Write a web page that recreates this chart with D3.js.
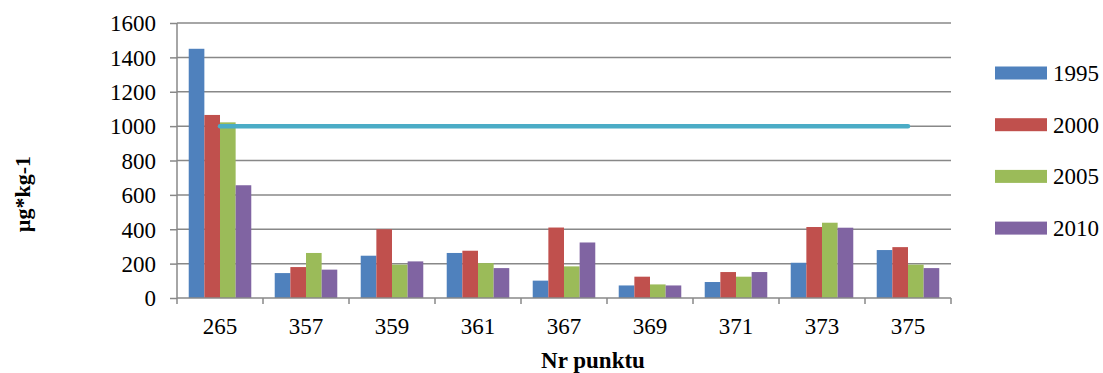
<!DOCTYPE html>
<html>
<head>
<meta charset="utf-8">
<script src="https://cdn.jsdelivr.net/npm/d3@7"></script>
<style>
  body { margin: 0; background: #fff; }
</style>
</head>
<body>
<div id="chart"></div>
<script>
// Data
const points = ['265', '357', '359', '361', '367', '369', '371', '373', '375'];
const years = ['1995', '2000', '2005', '2010'];
const v1995 = [1450, 145, 246, 262, 101, 73, 93, 205, 279];
const v2000 = [1065, 180, 400, 275, 410, 124, 151, 413, 296];
const v2005 = [1022, 262, 194, 203, 184, 79, 124, 438, 194];
const v2010 = [656, 165, 213, 174, 323, 73, 151, 409, 174];
const limit = [1000, 1000, 1000, 1000, 1000, 1000, 1000, 1000, 1000];
const yTicks = [0, 200, 400, 600, 800, 1000, 1200, 1400, 1600];

const series = [v1995, v2000, v2005, v2010];
const colors = ['#4F81BD', '#C0504D', '#9BBB59', '#8064A2'];
const FONT = "'Liberation Serif'";

const width = 1103, height = 373;
const margin = {top: 23, right: 152, bottom: 75, left: 177};
const plotW = width - margin.left - margin.right;
const plotH = height - margin.top - margin.bottom;

const svg = d3.select('#chart').append('svg')
  .attr('width', width)
  .attr('height', height);

const chart = svg.append('g')
  .attr('transform', 'translate(' + margin.left + ',' + margin.top + ')');

const x = d3.scaleBand().domain(points).range([0, plotW]).paddingInner(0).paddingOuter(0);
const bw = x.bandwidth() / 5.5; // Excel gap width 150%
const x1 = d3.scaleBand().domain(years).range([0.75 * bw, x.bandwidth() - 0.75 * bw]);
const y = d3.scaleLinear().domain([0, 1600]).range([plotH, 0]);

// gridlines
chart.append('g')
  .selectAll('line')
  .data(yTicks.slice(1))
  .enter().append('line')
  .attr('x1', 0).attr('x2', plotW)
  .attr('y1', d => y(d)).attr('y2', d => y(d))
  .attr('stroke', '#888').attr('stroke-width', 1.5);

// bars
const groups = chart.selectAll('.grp')
  .data(points)
  .enter().append('g')
  .attr('class', 'grp')
  .attr('transform', d => 'translate(' + x(d) + ',0)');

groups.selectAll('rect')
  .data((d, i) => series.map((s, k) => ({year: years[k], value: s[i], color: colors[k]})))
  .enter().append('rect')
  .attr('x', d => x1(d.year))
  .attr('width', x1.bandwidth())
  .attr('y', d => y(d.value))
  .attr('height', d => plotH - y(d.value))
  .attr('fill', d => d.color);

// limit line
const line = d3.line()
  .x((d, i) => x(points[i]) + x.bandwidth() / 2)
  .y(d => y(d));

chart.append('path')
  .datum(limit)
  .attr('d', line)
  .attr('fill', 'none')
  .attr('stroke', '#4BACC6')
  .attr('stroke-width', 4.5)
  .attr('stroke-linecap', 'round');

// y axis
const yAxis = d3.axisLeft(y).tickValues(yTicks).tickFormat(d3.format('d')).tickSize(7).tickPadding(14);
const gy = chart.append('g').call(yAxis).attr('font-family', null);
gy.select('.domain').attr('stroke', '#888').attr('stroke-width', 1.5).attr('d', 'M0,0V' + plotH);
gy.selectAll('.tick line').attr('stroke', '#888').attr('stroke-width', 1.5);
gy.selectAll('.tick text')
  .style('font-family', FONT)
  .style('font-size', '23px')
  .attr('fill', '#000')
  .attr('dy', '0.34em');

// x axis
const gx = chart.append('g').attr('transform', 'translate(0,' + plotH + ')');
gx.append('line')
  .attr('x1', 0).attr('x2', plotW)
  .attr('stroke', '#888').attr('stroke-width', 1.5);
gx.selectAll('.tk')
  .data(d3.range(points.length + 1))
  .enter().append('line')
  .attr('x1', i => i * x.bandwidth()).attr('x2', i => i * x.bandwidth())
  .attr('y1', 0).attr('y2', 6)
  .attr('stroke', '#888').attr('stroke-width', 1.5);
gx.selectAll('text')
  .data(points)
  .enter().append('text')
  .attr('x', d => x(d) + x.bandwidth() / 2)
  .attr('y', 36)
  .attr('text-anchor', 'middle')
  .style('font-family', FONT)
  .style('font-size', '23px')
  .text(d => d);

// axis titles
svg.append('text')
  .attr('transform', 'translate(30,194) rotate(-90)')
  .attr('text-anchor', 'middle')
  .style('font-family', FONT)
  .style('font-size', '22px')
  .style('font-weight', 'bold')
  .text('µg*kg-1');

svg.append('text')
  .attr('x', 593)
  .attr('y', 368)
  .attr('text-anchor', 'middle')
  .style('font-family', FONT)
  .style('font-size', '23px')
  .style('font-weight', 'bold')
  .text('Nr punktu');

// legend
const legend = svg.append('g').attr('transform', 'translate(995,73)');
const li = legend.selectAll('g')
  .data(years)
  .enter().append('g')
  .attr('transform', (d, i) => 'translate(0,' + (i * 51.7) + ')');
li.append('rect')
  .attr('x', 0).attr('y', -6.5)
  .attr('width', 52).attr('height', 13)
  .attr('fill', (d, i) => colors[i]);
li.append('text')
  .attr('x', 58)
  .attr('dy', '0.35em')
  .style('font-family', FONT)
  .style('font-size', '23px')
  .text(d => d);
</script>
</body>
</html>
